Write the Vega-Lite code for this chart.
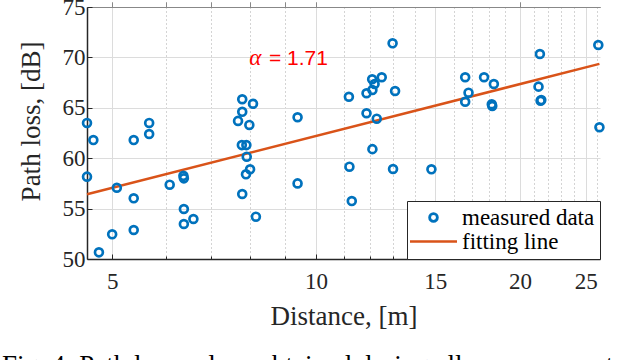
{
  "$schema": "https://vega.github.io/schema/vega-lite/v6.json",
  "width": 513,
  "height": 252,
  "autosize": {"type": "none"},
  "padding": {"left": 87, "top": 7, "right": 40, "bottom": 101},
  "background": "white",
  "config": {
    "view": {"stroke": null},
    "font": "Liberation Serif",
    "axis": {"labelFont": "Liberation Serif", "titleFont": "Liberation Serif", "labelColor": "#262626", "titleColor": "#262626", "titleFontWeight": "normal"}
  },
  "title": {
    "text": "Fig. 4: Path loss values obtained during all measurements and the fitted line",
    "orient": "bottom",
    "anchor": "start",
    "frame": "group",
    "dx": -85,
    "offset": 24,
    "font": "Liberation Serif",
    "fontSize": 27,
    "fontWeight": "normal",
    "color": "#000000"
  },
  "datasets": {
    "measured": [
      {"d": 4.59, "pl": 63.5}, {"d": 4.69, "pl": 61.8}, {"d": 5.38, "pl": 61.8}, {"d": 5.67, "pl": 63.5},
      {"d": 5.67, "pl": 62.4}, {"d": 7.78, "pl": 65.85}, {"d": 8.07, "pl": 65.4}, {"d": 7.78, "pl": 64.6},
      {"d": 7.67, "pl": 63.7}, {"d": 7.97, "pl": 63.3}, {"d": 7.77, "pl": 61.3}, {"d": 7.89, "pl": 61.3},
      {"d": 7.9, "pl": 60.15}, {"d": 7.99, "pl": 58.9}, {"d": 7.88, "pl": 58.4}, {"d": 6.37, "pl": 58.25},
      {"d": 4.59, "pl": 58.17}, {"d": 5.08, "pl": 57.07}, {"d": 5.38, "pl": 56.02}, {"d": 6.08, "pl": 57.37},
      {"d": 6.38, "pl": 58.0}, {"d": 7.78, "pl": 56.45}, {"d": 5.0, "pl": 52.45}, {"d": 5.38, "pl": 52.88},
      {"d": 4.78, "pl": 50.66}, {"d": 6.38, "pl": 54.96}, {"d": 6.38, "pl": 53.47}, {"d": 6.59, "pl": 53.97},
      {"d": 8.15, "pl": 54.2}, {"d": 12.97, "pl": 71.4}, {"d": 12.5, "pl": 68.03}, {"d": 12.1, "pl": 67.83},
      {"d": 12.2, "pl": 67.36}, {"d": 12.11, "pl": 66.77}, {"d": 11.87, "pl": 66.44}, {"d": 11.18, "pl": 66.1},
      {"d": 13.08, "pl": 66.67}, {"d": 9.39, "pl": 64.06}, {"d": 11.87, "pl": 64.46}, {"d": 12.29, "pl": 63.92},
      {"d": 12.11, "pl": 60.9}, {"d": 11.2, "pl": 59.16}, {"d": 12.99, "pl": 58.93}, {"d": 14.8, "pl": 58.9},
      {"d": 9.39, "pl": 57.5}, {"d": 11.29, "pl": 55.75}, {"d": 26.1, "pl": 71.23}, {"d": 21.4, "pl": 70.34},
      {"d": 16.6, "pl": 68.03}, {"d": 17.7, "pl": 68.03}, {"d": 18.3, "pl": 67.36}, {"d": 16.79, "pl": 66.5},
      {"d": 16.6, "pl": 65.6}, {"d": 18.17, "pl": 65.35}, {"d": 18.2, "pl": 65.18}, {"d": 21.3, "pl": 67.1},
      {"d": 21.5, "pl": 65.77}, {"d": 21.45, "pl": 65.7}, {"d": 26.2, "pl": 63.07}
    ],
    "fit": [
      {"d": 4.59, "pl": 56.42},
      {"d": 26.2, "pl": 69.36}
    ],
    "alpha": [{"d": 7.965, "pl": 69.25, "t": "α"}],
    "alphaval": [{"d": 8.52, "pl": 69.25, "t": "= 1.71"}]
  },
  "layer": [
    {
      "data": {"name": "fit"},
      "mark": {"type": "line", "strokeWidth": 2.5},
      "encoding": {
        "x": {
          "field": "d", "type": "quantitative",
          "scale": {"type": "log", "domain": [4.59, 26.25], "nice": false, "zero": false},
          "axis": {
            "orient": "bottom",
            "values": [5, 10, 15, 20, 25],
            "title": "Distance, [m]",
            "titleFont": "Liberation Serif",
            "titleFontSize": 27,
            "titlePadding": 10,
            "labelFont": "Liberation Serif",
            "labelFontSize": 23,
            "labelPadding": 16,
            "labelFlush": false,
            "labelOverlap": false,
            "grid": true,
            "gridColor": "#DCDCDC",
            "gridWidth": 1,
            "domainColor": "#262626",
            "domainWidth": 1.5,
            "tickColor": "#262626",
            "tickSize": -5,
            "tickWidth": 1
          }
        },
        "y": {
          "field": "pl", "type": "quantitative",
          "scale": {"domain": [50, 75], "nice": false, "zero": false},
          "axis": {
            "values": [50, 55, 60, 65, 70, 75],
            "title": "Path loss, [dB]",
            "titleFont": "Liberation Serif",
            "titleFontSize": 27,
            "titlePadding": 17,
            "titleY": 114,
            "labelFont": "Liberation Serif",
            "labelFontSize": 23,
            "labelPadding": 7,
            "labelFlush": false,
            "grid": true,
            "gridColor": "#DCDCDC",
            "gridWidth": 1,
            "domainColor": "#262626",
            "domainWidth": 1.5,
            "tickColor": "#262626",
            "tickSize": -5,
            "tickWidth": 1
          }
        },
        "color": {
          "datum": "fitting line",
          "type": "nominal",
          "scale": {"domain": ["measured data", "fitting line"], "range": ["#0072BD", "#D95319"]},
          "legend": {
            "title": null,
            "orient": "bottom-right",
            "offset": 0,
            "strokeColor": "#262626",
            "fillColor": "white",
            "padding": 5,
            "rowPadding": 0,
            "labelFont": "Liberation Serif",
            "labelFontSize": 23,
            "labelColor": "#000000",
            "labelOffset": 17,
            "symbolOffset": 10,
            "symbolSize": 2025,
            "symbolStrokeWidth": 2.5,
            "encode": {
              "symbols": {
                "update": {
                  "shape": {"signal": "datum.value === 'fitting line' ? 'stroke' : 'circle'"},
                  "size": {"signal": "datum.value === 'fitting line' ? 2209 : 60"},
                  "fill": {"value": "transparent"},
                  "fillOpacity": {"value": 0},
                  "stroke": {"signal": "datum.value === 'fitting line' ? '#D95319' : '#0072BD'"},
                  "strokeWidth": {"signal": "datum.value === 'fitting line' ? 2.5 : 2.8"},
                  "opacity": {"value": 1}
                }
              }
            }
          }
        }
      }
    },
    {
      "data": {"name": "measured"},
      "mark": {"type": "point", "filled": false, "size": 62, "strokeWidth": 2.7, "opacity": 1},
      "encoding": {
        "x": {
          "field": "d", "type": "quantitative",
          "axis": {
            "orient": "bottom",
            "values": [6, 7, 8, 9, 11, 12, 13, 14, 16, 17, 18, 19, 21, 22, 23, 24, 26],
            "title": null,
            "labels": false,
            "domain": false,
            "grid": true,
            "gridColor": "#A8A8A8",
            "gridDash": [1, 3],
            "gridWidth": 1,
            "tickColor": "#262626",
            "tickSize": -3,
            "tickWidth": 1
          }
        },
        "y": {"field": "pl", "type": "quantitative"},
        "color": {"datum": "measured data", "type": "nominal"}
      }
    },
    {
      "data": {"name": "alpha"},
      "mark": {"type": "text", "font": "Liberation Serif", "fontStyle": "italic", "fontSize": 23, "color": "#FF0000", "align": "left", "baseline": "alphabetic"},
      "encoding": {
        "x": {"field": "d", "type": "quantitative"},
        "y": {"field": "pl", "type": "quantitative"},
        "text": {"field": "t"}
      }
    },
    {
      "data": {"name": "alphaval"},
      "mark": {"type": "text", "font": "Liberation Sans", "fontSize": 21, "color": "#FF0000", "align": "left", "baseline": "alphabetic"},
      "encoding": {
        "x": {"field": "d", "type": "quantitative"},
        "y": {"field": "pl", "type": "quantitative"},
        "text": {"field": "t"}
      }
    }
  ],
  "resolve": {"axis": {"x": "independent"}}
}
